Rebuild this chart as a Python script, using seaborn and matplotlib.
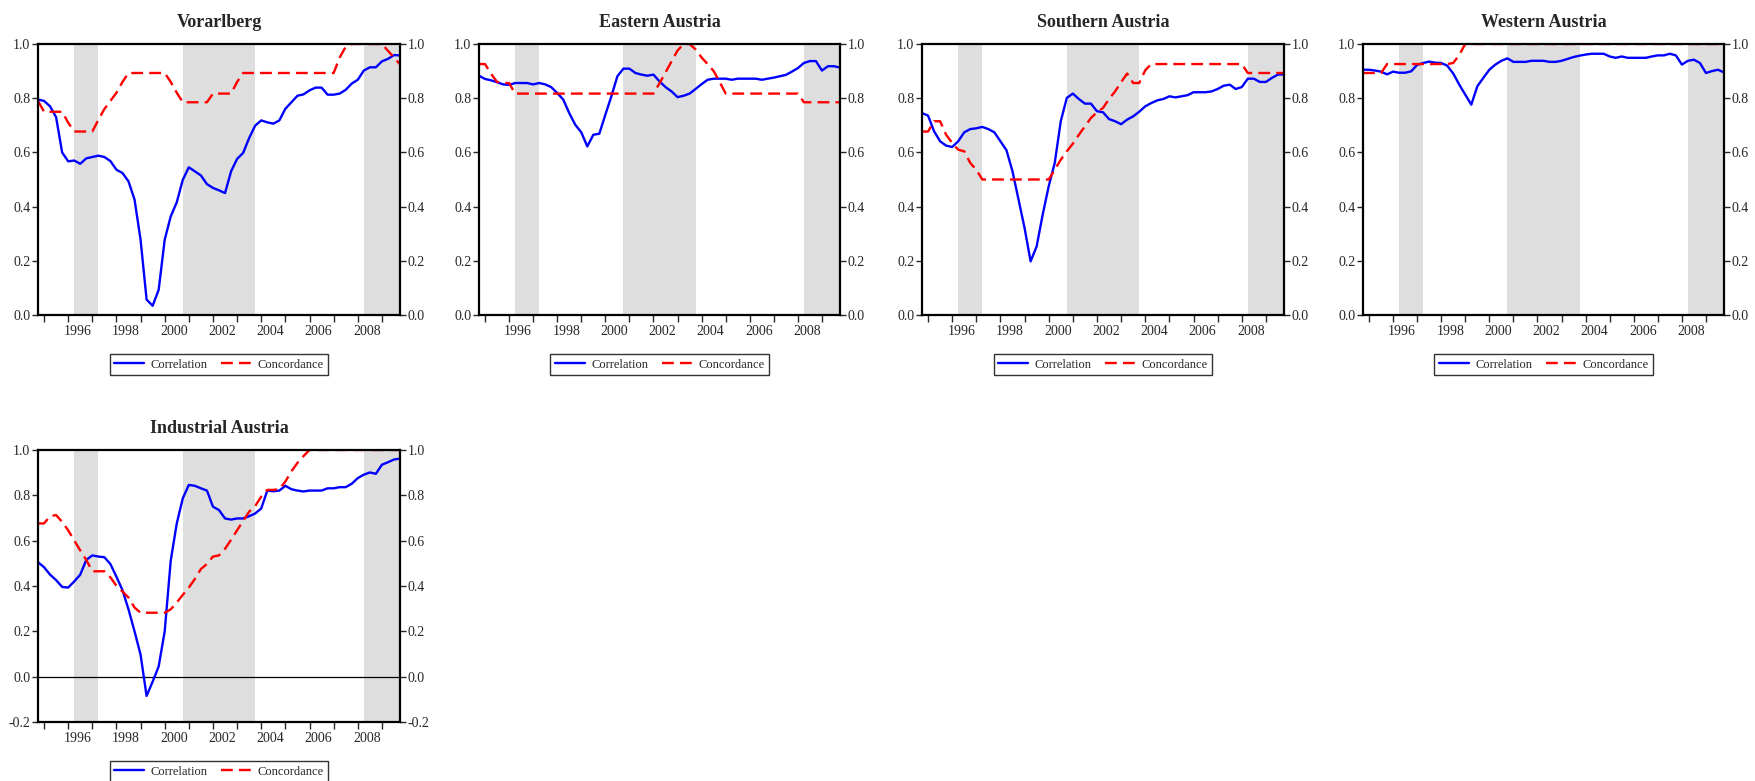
import numpy as np
import pandas as pd
import matplotlib
matplotlib.use("Agg")
import matplotlib.pyplot as plt
import seaborn as sns

sns.set_style("white")
plt.rcParams['font.family'] = ['Liberation Serif', 'DejaVu Serif']
plt.rcParams['axes.unicode_minus'] = False

## Data: quarterly, 1994Q4 - 2009Q4 ##

quarters = pd.period_range('1994Q4', '2009Q4', freq='Q')
x_time = quarters.year + (quarters.quarter - 1) / 4.0

vorarlberg_corr = [0.795,
                   0.790, 0.770, 0.730, 0.600,
                   0.567, 0.570, 0.558, 0.578,
                   0.583, 0.588, 0.583, 0.568,
                   0.536, 0.524, 0.493, 0.426,
                   0.278, 0.057, 0.034, 0.093,
                   0.278, 0.364, 0.416, 0.499,
                   0.545, 0.530, 0.515, 0.483,
                   0.469, 0.460, 0.450, 0.530,
                   0.576, 0.598, 0.653, 0.699,
                   0.718, 0.711, 0.706, 0.718,
                   0.761, 0.785, 0.809, 0.814,
                   0.829, 0.839, 0.839, 0.813,
                   0.813, 0.817, 0.831, 0.854,
                   0.868, 0.902, 0.914, 0.914,
                   0.936, 0.945, 0.959, 0.958]
vorarlberg_conc = [0.790,
                   0.750, 0.750, 0.750, 0.750,
                   0.710, 0.677, 0.677, 0.677,
                   0.677, 0.720, 0.760, 0.790,
                   0.820, 0.860, 0.893, 0.893,
                   0.893, 0.893, 0.893, 0.893,
                   0.893, 0.860, 0.820, 0.785,
                   0.785, 0.785, 0.785, 0.785,
                   0.817, 0.817, 0.817, 0.817,
                   0.860, 0.893, 0.893, 0.893,
                   0.893, 0.893, 0.893, 0.893,
                   0.893, 0.893, 0.893, 0.893,
                   0.893, 0.893, 0.893, 0.893,
                   0.893, 0.950, 0.990, 1.000,
                   1.000, 1.000, 1.000, 1.000,
                   1.000, 0.975, 0.950, 0.925]

eastern_corr = [0.883,
                0.871, 0.866, 0.859, 0.851,
                0.849, 0.856, 0.856, 0.856,
                0.851, 0.856, 0.851, 0.841,
                0.819, 0.795, 0.745, 0.702,
                0.674, 0.622, 0.665, 0.669,
                0.739, 0.807, 0.881, 0.909,
                0.909, 0.893, 0.887, 0.883,
                0.887, 0.862, 0.841, 0.825,
                0.804, 0.809, 0.817, 0.834,
                0.852, 0.868, 0.872, 0.872,
                0.872, 0.868, 0.872, 0.872,
                0.872, 0.872, 0.868, 0.872,
                0.876, 0.881, 0.886, 0.898,
                0.911, 0.930, 0.937, 0.937,
                0.902, 0.918, 0.918, 0.913]
eastern_conc = [0.926,
                0.926, 0.890, 0.860, 0.856,
                0.856, 0.817, 0.817, 0.817,
                0.817, 0.817, 0.817, 0.817,
                0.817, 0.817, 0.817, 0.817,
                0.817, 0.817, 0.817, 0.817,
                0.817, 0.817, 0.817, 0.817,
                0.817, 0.817, 0.817, 0.817,
                0.817, 0.855, 0.895, 0.936,
                0.976, 1.000, 1.000, 0.980,
                0.950, 0.926, 0.900, 0.860,
                0.817, 0.817, 0.817, 0.817,
                0.817, 0.817, 0.817, 0.817,
                0.817, 0.817, 0.817, 0.817,
                0.817, 0.785, 0.785, 0.785,
                0.785, 0.785, 0.785, 0.785]

southern_corr = [0.745,
                 0.736, 0.678, 0.641, 0.625,
                 0.620, 0.641, 0.674, 0.686,
                 0.689, 0.694, 0.686, 0.674,
                 0.641, 0.608, 0.530, 0.426,
                 0.321, 0.198, 0.253, 0.370,
                 0.475, 0.561, 0.715, 0.801,
                 0.817, 0.797, 0.780, 0.780,
                 0.752, 0.748, 0.723, 0.715,
                 0.704, 0.721, 0.733, 0.750,
                 0.770, 0.782, 0.792, 0.797,
                 0.807, 0.803, 0.807, 0.811,
                 0.822, 0.822, 0.822, 0.825,
                 0.834, 0.846, 0.850, 0.834,
                 0.841, 0.872, 0.872, 0.860,
                 0.860, 0.875, 0.887, 0.888]
southern_conc = [0.677,
                 0.677, 0.715, 0.715, 0.665,
                 0.635, 0.610, 0.604, 0.561,
                 0.536, 0.500, 0.500, 0.500,
                 0.500, 0.500, 0.500, 0.500,
                 0.500, 0.500, 0.500, 0.500,
                 0.500, 0.536, 0.573, 0.604,
                 0.632, 0.665, 0.696, 0.727,
                 0.748, 0.764, 0.797, 0.825,
                 0.859, 0.891, 0.856, 0.856,
                 0.903, 0.926, 0.926, 0.926,
                 0.926, 0.926, 0.926, 0.926,
                 0.926, 0.926, 0.926, 0.926,
                 0.926, 0.926, 0.926, 0.926,
                 0.926, 0.893, 0.893, 0.893,
                 0.893, 0.893, 0.893, 0.893]

western_corr = [0.905,
                0.905, 0.902, 0.898, 0.888,
                0.898, 0.894, 0.894, 0.899,
                0.923, 0.930, 0.935, 0.931,
                0.930, 0.920, 0.891, 0.850,
                0.813, 0.776, 0.844, 0.875,
                0.905, 0.924, 0.938, 0.947,
                0.934, 0.934, 0.934, 0.938,
                0.938, 0.938, 0.934, 0.934,
                0.938, 0.945, 0.952, 0.957,
                0.961, 0.964, 0.964, 0.964,
                0.954, 0.949, 0.954, 0.949,
                0.949, 0.949, 0.949, 0.954,
                0.958, 0.958, 0.964, 0.958,
                0.924, 0.938, 0.942, 0.930,
                0.893, 0.900, 0.905, 0.895]
western_conc = [0.893,
                0.893, 0.893, 0.893, 0.926,
                0.926, 0.926, 0.926, 0.926,
                0.926, 0.926, 0.926, 0.926,
                0.926, 0.926, 0.930, 0.960,
                1.000, 1.000, 1.000, 1.000,
                1.000, 1.000, 1.000, 1.000,
                1.000, 1.000, 1.000, 1.000,
                1.000, 1.000, 1.000, 1.000,
                1.000, 1.000, 1.000, 1.000,
                1.000, 1.000, 1.000, 1.000,
                1.000, 1.000, 1.000, 1.000,
                1.000, 1.000, 1.000, 1.000,
                1.000, 1.000, 1.000, 1.000,
                1.000, 1.000, 1.000, 1.000,
                1.000, 1.000, 1.000, 1.000]

industrial_corr = [0.505,
                   0.483, 0.450, 0.426, 0.396,
                   0.393, 0.420, 0.450, 0.515,
                   0.535, 0.530, 0.527, 0.497,
                   0.441, 0.382, 0.297, 0.200,
                   0.097, -0.085, -0.022, 0.045,
                   0.200, 0.512, 0.676, 0.787,
                   0.846, 0.842, 0.831, 0.821,
                   0.750, 0.735, 0.698, 0.693,
                   0.698, 0.698, 0.708, 0.720,
                   0.742, 0.821, 0.818, 0.821,
                   0.842, 0.827, 0.821, 0.817,
                   0.821, 0.821, 0.821, 0.831,
                   0.831, 0.836, 0.836, 0.851,
                   0.876, 0.891, 0.901, 0.895,
                   0.935, 0.946, 0.958, 0.962]
industrial_conc = [0.676,
                   0.676, 0.708, 0.713, 0.683,
                   0.646, 0.601, 0.557, 0.515,
                   0.465, 0.465, 0.465, 0.438,
                   0.401, 0.376, 0.349, 0.305,
                   0.282, 0.282, 0.282, 0.282,
                   0.282, 0.297, 0.327, 0.361,
                   0.393, 0.431, 0.475, 0.497,
                   0.530, 0.535, 0.564, 0.604,
                   0.646, 0.687, 0.728, 0.753,
                   0.794, 0.824, 0.824, 0.827,
                   0.861, 0.906, 0.943, 0.973,
                   1.000, 1.000, 1.000, 1.000,
                   1.000, 1.000, 1.000, 1.000,
                   1.000, 1.000, 1.000, 1.000,
                   1.000, 1.000, 1.000, 1.000]

# shaded periods (start, end) #
recessions = [(1996.25, 1997.25), (2000.75, 2003.75), (2008.25, 2009.75)]

regions = ["Vorarlberg", "Eastern Austria", "Southern Austria",
           "Western Austria", "Industrial Austria"]
correlation = [vorarlberg_corr, eastern_corr, southern_corr, western_corr, industrial_corr]
concordance = [vorarlberg_conc, eastern_conc, southern_conc, western_conc, industrial_conc]

## Layout (pixel boxes of each panel) ##

W, H = 1755, 781
boxes = [(38, 44, 400, 315), (479, 44, 840, 315), (922, 44, 1284, 315),
         (1363, 44, 1724, 315), (38, 450, 400, 722)]

def rect(box):
    l, t, r, b = box
    return [l / W, 1 - b / H, (r - l) / W, (b - t) / H]

colors = {"Correlation": "blue", "Concordance": "red"}
dash_map = {"Correlation": "", "Concordance": (5, 2.6)}

fig = plt.figure(figsize=(W / 100, H / 100), dpi=100)

for i, name in enumerate(regions):
    ax = fig.add_axes(rect(boxes[i]))
    df = pd.DataFrame({"x": list(x_time) * 2,
                       "value": correlation[i] + concordance[i],
                       "series": ["Correlation"] * len(x_time) + ["Concordance"] * len(x_time)})

    for a, b in recessions:
        ax.axvspan(a, b, color="#dedede", lw=0, zorder=0)

    sns.lineplot(data=df, x="x", y="value", hue="series", style="series",
                 palette=colors, dashes=dash_map, linewidth=1.7, ax=ax)

    if name == "Industrial Austria":
        ax.axhline(0, color="black", lw=0.9, zorder=1)
        ax.set_ylim(-0.2, 1.0)
        ax.set_yticks(np.arange(-0.2, 1.01, 0.2))
    else:
        ax.set_ylim(0, 1.0)
        ax.set_yticks(np.arange(0, 1.01, 0.2))
    ax.yaxis.set_major_formatter(matplotlib.ticker.FormatStrFormatter('%.1f'))

    ax.set_xlim(1994.75, 2009.75)
    ax.set_xticks(range(1995, 2010))
    ax.set_xticks([y + 0.375 for y in range(1996, 2010, 2)], minor=True)
    ax.set_xticklabels([str(y) for y in range(1996, 2010, 2)], minor=True)
    ax.tick_params(axis="x", which="major", direction="out", length=5, width=1,
                   bottom=True, labelbottom=False)
    ax.tick_params(axis="x", which="minor", length=0, pad=7, labelsize=10)
    ax.tick_params(axis="y", direction="out", length=4, width=1, left=True, right=True,
                   labelleft=True, labelright=True, labelsize=10, pad=1.5)

    for s in ax.spines.values():
        s.set_color("black")
        s.set_linewidth(1.6)

    ax.set_xlabel("")
    ax.set_ylabel("")
    ax.set_title(name, fontweight="bold", fontsize=13, pad=12)

    sns.move_legend(ax, "center", bbox_to_anchor=(0.5, -0.183), ncol=2, title=None,
                    frameon=True, fancybox=False, edgecolor="black", fontsize=9,
                    handlelength=2.4, handletextpad=0.5, columnspacing=1.1,
                    borderpad=0.35, borderaxespad=0)
    ax.get_legend().get_frame().set_linewidth(1.0)

plt.savefig("out.png", dpi=100)
